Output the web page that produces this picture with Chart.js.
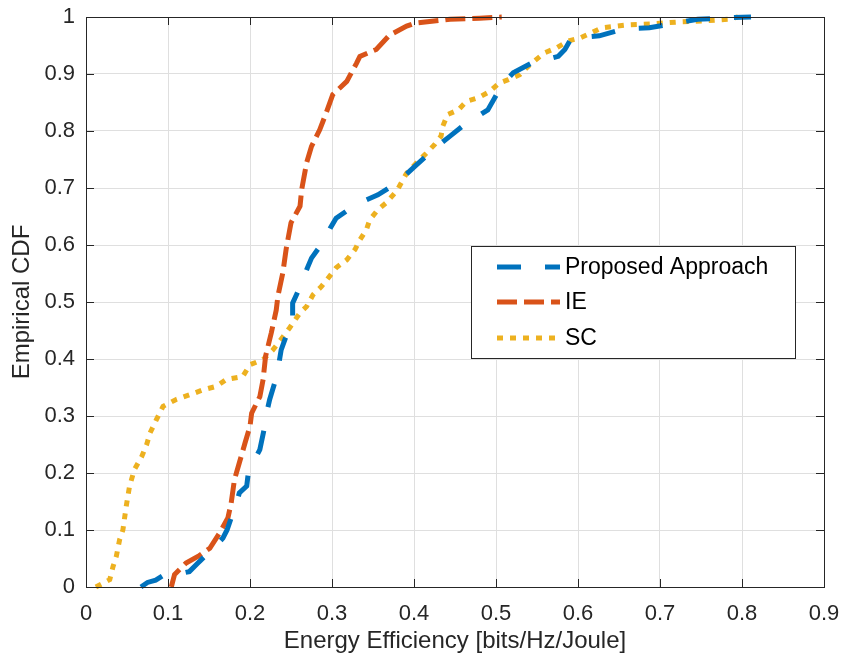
<!DOCTYPE html>
<html>
<head>
<meta charset="utf-8">
<script src="https://cdn.jsdelivr.net/npm/chart.js@4/dist/chart.umd.min.js"></script>
<style>
  html, body { margin: 0; padding: 0; background: #fff; }
</style>
</head>
<body>
<canvas id="cdfChart" width="843" height="656"></canvas>
<script>
// Values
const proposedX = [0.067, 0.075, 0.085, 0.094, 0.11, 0.126, 0.135, 0.145, 0.157, 0.167, 0.172, 0.177, 0.183, 0.187, 0.196, 0.198, 0.205, 0.212, 0.218, 0.221, 0.224, 0.232, 0.235, 0.238, 0.244, 0.25, 0.252, 0.252, 0.263, 0.27, 0.275, 0.291, 0.298, 0.305, 0.326, 0.34, 0.356, 0.379, 0.401, 0.419, 0.43, 0.444, 0.464, 0.478, 0.49, 0.502, 0.51, 0.521, 0.543, 0.56, 0.576, 0.584, 0.592, 0.61, 0.626, 0.653, 0.67, 0.687, 0.714, 0.73, 0.746, 0.775, 0.79, 0.811];
const proposedY = [0, 0.008, 0.012, 0.02, 0.022, 0.027, 0.04, 0.054, 0.07, 0.086, 0.1, 0.121, 0.145, 0.165, 0.177, 0.201, 0.222, 0.241, 0.282, 0.31, 0.329, 0.367, 0.39, 0.416, 0.44, 0.451, 0.475, 0.498, 0.533, 0.56, 0.577, 0.609, 0.63, 0.647, 0.668, 0.678, 0.688, 0.709, 0.738, 0.761, 0.775, 0.791, 0.814, 0.826, 0.837, 0.867, 0.885, 0.902, 0.919, 0.925, 0.931, 0.943, 0.963, 0.965, 0.967, 0.978, 0.98, 0.981, 0.988, 0.992, 0.996, 0.998, 0.999, 1.0];

const ieX = [0.104, 0.108, 0.122, 0.137, 0.151, 0.163, 0.173, 0.177, 0.181, 0.187, 0.194, 0.2, 0.202, 0.212, 0.216, 0.219, 0.226, 0.232, 0.234, 0.24, 0.244, 0.25, 0.261, 0.263, 0.269, 0.275, 0.285, 0.293, 0.301, 0.318, 0.33, 0.334, 0.354, 0.37, 0.391, 0.401, 0.444, 0.48, 0.507];
const ieY = [0, 0.022, 0.042, 0.054, 0.068, 0.095, 0.121, 0.147, 0.188, 0.218, 0.253, 0.282, 0.305, 0.334, 0.364, 0.405, 0.446, 0.486, 0.51, 0.551, 0.592, 0.639, 0.668, 0.697, 0.744, 0.773, 0.802, 0.832, 0.864, 0.887, 0.919, 0.931, 0.943, 0.968, 0.984, 0.989, 0.996, 0.998, 1.0];

const scX = [0.012, 0.029, 0.033, 0.037, 0.041, 0.045, 0.049, 0.053, 0.059, 0.068, 0.074, 0.078, 0.086, 0.094, 0.11, 0.126, 0.143, 0.159, 0.171, 0.191, 0.2, 0.216, 0.228, 0.236, 0.248, 0.261, 0.269, 0.277, 0.287, 0.297, 0.305, 0.318, 0.328, 0.334, 0.342, 0.346, 0.356, 0.366, 0.379, 0.391, 0.403, 0.415, 0.425, 0.433, 0.435, 0.441, 0.454, 0.464, 0.478, 0.492, 0.504, 0.515, 0.529, 0.541, 0.559, 0.574, 0.588, 0.602, 0.616, 0.629, 0.659, 0.69, 0.72, 0.752, 0.783, 0.795];
const scY = [0, 0.013, 0.036, 0.054, 0.083, 0.1, 0.141, 0.176, 0.206, 0.229, 0.25, 0.27, 0.294, 0.317, 0.329, 0.337, 0.346, 0.352, 0.364, 0.369, 0.39, 0.399, 0.416, 0.431, 0.454, 0.481, 0.492, 0.513, 0.527, 0.545, 0.56, 0.574, 0.592, 0.609, 0.627, 0.644, 0.662, 0.674, 0.695, 0.726, 0.744, 0.761, 0.776, 0.791, 0.808, 0.829, 0.837, 0.852, 0.858, 0.869, 0.884, 0.89, 0.899, 0.916, 0.937, 0.946, 0.958, 0.963, 0.972, 0.981, 0.986, 0.988, 0.991, 0.993, 0.996, 1.0];

const xTickLabels = ['0', '0.1', '0.2', '0.3', '0.4', '0.5', '0.6', '0.7', '0.8', '0.9'];
const yTickLabels = ['0', '0.1', '0.2', '0.3', '0.4', '0.5', '0.6', '0.7', '0.8', '0.9', '1'];

const FONT = "'Liberation Sans', Arial, Helvetica, sans-serif";
const AXIS_COLOR = '#262626';

function toPoints(xs, ys) {
    return xs.map((x, i) => ({ x: x, y: ys[i] }));
}

// box around the axes, inside ticks and the legend (MATLAB look)
const matlabFrame = {
    id: 'matlabFrame',
    afterDatasetsDraw(chart) {
        const ctx = chart.ctx;
        const area = chart.chartArea;
        const xs = chart.scales.x;
        const ys = chart.scales.y;
        const tick = 8;

        ctx.save();
        ctx.strokeStyle = AXIS_COLOR;
        ctx.lineWidth = 1;
        ctx.setLineDash([]);
        ctx.beginPath();
        xs.ticks.forEach(t => {
            const px = Math.round(xs.getPixelForValue(t.value)) + 0.5;
            ctx.moveTo(px, area.bottom); ctx.lineTo(px, area.bottom - tick);
            ctx.moveTo(px, area.top); ctx.lineTo(px, area.top + tick);
        });
        ys.ticks.forEach(t => {
            const py = Math.round(ys.getPixelForValue(t.value)) + 0.5;
            ctx.moveTo(area.left, py); ctx.lineTo(area.left + tick, py);
            ctx.moveTo(area.right, py); ctx.lineTo(area.right - tick, py);
        });
        ctx.stroke();
        ctx.strokeRect(Math.round(area.left) + 0.5, Math.round(area.top) + 0.5,
            Math.round(area.right - area.left), Math.round(area.bottom - area.top));

        // legend
        const box = { x: 471, y: 246, w: 324, h: 112 };
        ctx.fillStyle = '#ffffff';
        ctx.fillRect(box.x, box.y, box.w, box.h);
        ctx.strokeRect(box.x + 0.5, box.y + 0.5, box.w, box.h);
        const rows = [267, 302, 338];
        ctx.font = '23px ' + FONT;
        ctx.textBaseline = 'middle';
        chart.data.datasets.forEach((ds, i) => {
            ctx.strokeStyle = ds.borderColor;
            ctx.lineWidth = ds.borderWidth;
            ctx.lineCap = 'butt';
            ctx.setLineDash(ds.borderDash);
            ctx.beginPath();
            ctx.moveTo(497, rows[i]);
            ctx.lineTo(560, rows[i]);
            ctx.stroke();
            ctx.setLineDash([]);
            ctx.fillStyle = '#000000';
            ctx.fillText(ds.label, 565, rows[i] + 1);
        });
        ctx.restore();
    }
};

const ctx = document.getElementById('cdfChart').getContext('2d');
new Chart(ctx, {
    type: 'line',
    data: {
        datasets: [{
            label: 'Proposed Approach',
            data: toPoints(proposedX, proposedY),
            borderColor: '#0072BD',
            borderWidth: 5,
            borderDash: [24, 24],
            pointRadius: 0,
            tension: 0,
            clip: false
        }, {
            label: 'IE',
            data: toPoints(ieX, ieY),
            borderColor: '#D95319',
            borderWidth: 5,
            borderDash: [20, 7],
            pointRadius: 0,
            tension: 0,
            clip: false
        }, {
            label: 'SC',
            data: toPoints(scX, scY),
            borderColor: '#EDB120',
            borderWidth: 5,
            borderDash: [6, 7],
            pointRadius: 0,
            tension: 0,
            clip: false
        }]
    },
    options: {
        responsive: false,
        animation: false,
        devicePixelRatio: 1,
        layout: { padding: { left: 0, top: 17, right: 19, bottom: 0 } },
        plugins: {
            legend: { display: false },
            tooltip: { enabled: false }
        },
        scales: {
            x: {
                type: 'linear',
                min: 0,
                max: 0.9,
                afterFit: scale => {
                    scale.height = 69;
                    scale.paddingLeft = 0;
                    scale.paddingRight = 0;
                },
                afterBuildTicks: scale => {
                    scale.ticks = xTickLabels.map(l => ({ value: parseFloat(l) }));
                },
                ticks: {
                    callback: (v, i) => xTickLabels[i],
                    color: AXIS_COLOR,
                    font: { family: FONT, size: 22 },
                    padding: 14,
                    maxRotation: 0
                },
                grid: { color: '#dfdfdf', drawTicks: false },
                border: { display: false },
                title: {
                    display: true,
                    text: 'Energy Efficiency [bits/Hz/Joule]',
                    color: AXIS_COLOR,
                    font: { family: FONT, size: 24 },
                    padding: { top: 0, bottom: 0 }
                }
            },
            y: {
                type: 'linear',
                min: 0,
                max: 1,
                afterFit: scale => {
                    scale.width = 86;
                    scale.paddingTop = 0;
                    scale.paddingBottom = 0;
                },
                afterBuildTicks: scale => {
                    scale.ticks = yTickLabels.map(l => ({ value: parseFloat(l) }));
                },
                ticks: {
                    callback: (v, i) => yTickLabels[i],
                    color: AXIS_COLOR,
                    font: { family: FONT, size: 22 },
                    padding: 11
                },
                grid: { color: '#dfdfdf', drawTicks: false },
                border: { display: false },
                title: {
                    display: true,
                    text: 'Empirical CDF',
                    color: AXIS_COLOR,
                    font: { family: FONT, size: 24 },
                    padding: { top: 8, bottom: 0 }
                }
            }
        }
    },
    plugins: [matlabFrame]
});
</script>
</body>
</html>
